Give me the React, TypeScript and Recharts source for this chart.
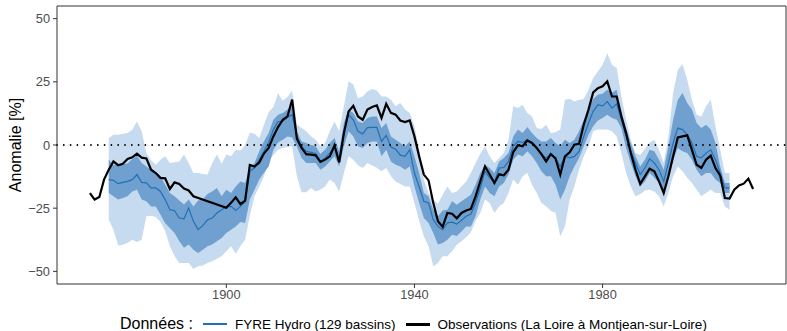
import React from 'react';
import {
  ComposedChart, Area, Line, XAxis, YAxis, ReferenceLine, ReferenceArea,
} from 'recharts';

// Observations (La Loire à Montjean-sur-Loire), first year 1871
const OBS_START = 1871;
const obsValues: (number | null)[] = [
  -19, -21.6, -20.6, -13.7, -9.8, -6.5, -8, -7.4, -5.5,
  -4.9, -3.4, -5, -5.3, -9.8, -11.1, -13, -13.2, -17.4, -14.8,
  -15.4, -17.2, -18, -20.3, null, null, null, null, null, null,
  -24.8, -22.9, -20.7, -23.4, -22, -7.9, -8.5, -6.9, -3.4, -1.2,
  3.4, 7.1, 10, 11.3, 18, 2.5, -1.2, -3.6, -3.8, -4.1,
  -6.7, -5.8, -4.5, -0.2, -6.9, 4.7, 13.3, 15.5, 11.3, 10,
  14, 15, 15.7, 10.7, 16.3, 12.7, 12, 9.7, 9.1, 9.7,
  3.4, -4.5, -11.7, -14, -22.9, -30.2, -32.4, -26.9, -27.2, -29,
  -26.9, -25.9, -25.3, -20.3, -14.4, -8.5, -11.7, -15, -11.6, -12,
  -9.8, -2.8, -0.1, -0.5, 1.8, 0.8, -1.2, -3.6, -6.5, -3.6,
  -5.3, -11.7, -4.5, -2.9, 0.1, 0.5, 8, 14, 20.8, 22.5,
  23.2, 25.2, 19.2, 19.2, 11.3, 4.7, -3.2, -9.8, -15.4, -12.4,
  -9.4, -10.4, -14.4, -19, -12.4, -4.5, 3, 3.4, 3.8, -1.9,
  -7.8, -9.1, -5.8, -4.2, -9.1, -12, -21, -21.2, -17.7, -16,
  -15.3, -13.3, -17.4,
];

// FYRE Hydro (129 bassins), first year 1875
const FYRE_START = 1875;
const fyreMedian: number[] = [
  -13.7, -14, -15.3, -14.8, -14.4,
  -13.7, -11.7, -14.8, -15, -17, -17, -18.4, -21.6, -25.6, -26,
  -28.9, -29.2, -24.9, -30.2, -33.5, -31.9, -29.6, -28.9, -26.9, -25.6,
  -24.5, -24.3, -25.9, -24.3, -22.3, -10.4, -9.1, -5.8, -2.5, 1,
  6, 9.3, 9.3, 11, 12, 3.4, -0.5, -2.5, -2.9, -3.4,
  -6.5, -5.1, -3.2, -0.5, -5.5, 4.7, 12, 10, 5.4, 4.4,
  6.9, 7, 7, 1.4, 3.8, -0.8, -1.7, -4, -4.5, -1.9,
  -11.1, -16.4, -22.3, -22.9, -29.6, -32.2, -33.5, -30.8, -30.5, -31.3,
  -29.8, -28.2, -27.3, -22.9, -17, -10.4, -13, -14.8, -9.1, -8.9,
  -6.5, -0.5, 1.4, 1, 2.1, 0.5, -1.2, -3.8, -5.1, -3.4,
  -5.5, -8.5, -4.5, -5.1, -4.5, -2.5, 3.4, 8.7, 13.3, 15.9,
  15.5, 17.2, 14.6, 16.3, 10, 3.4, -2.5, -7.1, -11.7, -9.1,
  -5.5, -7.1, -9.8, -14.4, -7.1, 0.8, 6.7, 6.1, 4.1, 0.8,
  -4.5, -5.1, -3.2, -1.9, -5.8, -11.1, -17, -17,
];
const darkLow: number[] = [
  -19, -20.3, -21.6, -21, -20.3,
  -18.4, -17.7, -21.6, -22.3, -24.3, -24.3, -27.5, -31, -32.8, -34.8,
  -38.1, -40.7, -39.4, -41.4, -42.7, -41.4, -40.1, -39.4, -38.1, -36.8,
  -34.8, -33.5, -32.2, -30.5, -30.9, -21.6, -17.7, -13.7, -11, -8.5,
  -2, 1, 2.1, 3.4, 3, -0.5, -5.1, -7.1, -7.1, -7.1,
  -9.8, -8.5, -6.5, -4.5, -8.5, -0.5, 5.4, 3.4, -0.5, -1.2,
  0.8, 1.4, 1.4, -4.5, -1.9, -6.5, -7.8, -8.5, -9.8, -8.5,
  -16.4, -22.9, -28.9, -30.9, -34.8, -39.4, -38.8, -37.5, -35.5, -36,
  -34.2, -32.2, -32.2, -28.2, -21.6, -16.4, -19, -20.3, -16.4, -15,
  -11.7, -5.8, -3.8, -4.5, -2.5, -4.5, -7.1, -10.4, -12.4, -12.4,
  -15.7, -21.6, -17.7, -12.4, -8.5, -5.1, -0.5, 4.1, 7.4, 9.7,
  10.7, 12, 10.7, 10, 6.7, -1.2, -7.1, -12.4, -16.4, -14.4,
  -11.1, -13, -15, -19, -13, -5.8, -1.2, -2.5, -3.2, -5.8,
  -9.8, -12.4, -11.1, -11.1, -13.7, -15, -19, -19,
];
const darkHigh: number[] = [
  -5.8, -7.8, -8, -7.6, -7.3,
  -5.5, -4.2, -7.1, -8.5, -9.8, -11.1, -12.5, -15.7, -19, -20.3,
  -22, -23.5, -21.6, -24.3, -22, -21.6, -19.4, -18.4, -17, -20.3,
  -17.7, -19, -16.4, -14.4, -15, -9.1, -7.1, -2.5, 1.5, 4.7,
  10, 12, 12.7, 14, 15.3, 5.4, 1.4, 0.8, 0, -0.5,
  -3.6, -1.9, 0.8, 2.8, -2.5, 8.7, 14, 12.7, 9.3, 8.7,
  10.7, 11.3, 11.3, 6.7, 8.7, 3.4, 2.1, 0.8, -0.5, 1.4,
  -4.5, -11.1, -19, -20.3, -25.6, -28.2, -25.9, -25.6, -22.3, -23.6,
  -22.3, -21, -19.7, -15.7, -11.1, -7.8, -9.1, -11.1, -6.5, -5.1,
  -3.2, 3.4, 6.1, 4.7, 7.1, 4.7, 2.8, 1.4, 1.4, 2.8,
  0.8, -0.5, 2.1, 0.8, 2.1, 5.4, 10, 14, 18.2, 19.9,
  20.3, 21.9, 20.8, 21.9, 13.3, 6.7, 0.8, -4.5, -8.5, -5.8,
  -1.9, -2.5, -5.8, -9.8, -0.5, 10, 17.9, 20.6, 16.6, 14,
  8.7, 6.7, 8, 6.1, 0.8, -8.5, -15, -15,
];
const lightLow: number[] = [
  -29.6, -33.5, -39.8, -39.5, -38.8,
  -37.5, -38.4, -37.5, -28.2, -28, -28.5, -30.5, -34, -40.1, -44,
  -46.7, -46.7, -46.7, -49.1, -48, -47.7, -46.7, -46, -45, -44,
  -42, -40.1, -43, -40, -37.5, -28, -20.3, -16.4, -12.5, -6.5,
  -4, -1.9, -1.2, -0.8, -0.5, -12.4, -18.7, -18.7, -17, -18.4,
  -17.7, -16.4, -13.7, -15, -18.4, -11.1, -4.5, -5.8, -8, -9.1,
  -7.1, -8.1, -9, -10.4, -9.1, -12.4, -14.4, -15.4, -16.4, -16.4,
  -22.9, -30, -36.1, -40.1, -48, -46.7, -44, -44, -42, -39.5,
  -38.1, -36.5, -34.5, -30, -26.9, -21.6, -22.9, -26.9, -24.3, -22.9,
  -19, -13.7, -15.7, -12.4, -11.1, -15.7, -19, -22.9, -24.3, -26,
  -26.9, -36.1, -32.2, -21.6, -16.4, -9.8, -4.5, -0.5, 5.4, 6.1,
  6.1, 6.1, 5.4, 3.4, -3.2, -11.1, -16.4, -20.3, -19.5, -18,
  -17.7, -18.4, -20.3, -24.3, -19, -12.4, -8.5, -10.4, -13, -15,
  -17.7, -20.3, -19, -17.7, -19, -19, -24.3, -25.6,
];
const lightHigh: number[] = [
  2.8, 4.1, 4.1, 4.5, 4.7,
  6, 9.3, 5.4, -3.2, -6, -7.8, -5.8, -4.5, -7.1, -6.8,
  -6.5, -3.8, -7.1, -11.1, -11.1, -11.5, -11.7, -7.1, -3.8, -7.4,
  -3.8, -4.5, -1.9, -2.2, 0, 4.8, 4.5, 2.8, 8, 13,
  15, 20.5, 17.5, 19, 21.6, 8, 6.7, 5.4, 3.5, 2.1,
  -0.5, 0.8, 5.4, 9.3, 5.4, 15.3, 25.2, 23.9, 18.5, 19.2,
  21.2, 22.2, 21.6, 19.2, 19.2, 17.9, 15.3, 16.6, 14, 12.7,
  7.4, -1.9, -13.7, -19, -21.6, -23.2, -19.7, -16.4, -19, -18.4,
  -16.4, -14.4, -11.1, -7.1, -3.5, -0.5, -4.5, -7.1, -5.1, -3.2,
  2.1, 15.3, 14.6, 15.9, 12.7, 11.3, 6.7, 6.3, 8, 4.7,
  5, 6.1, 17.9, 18.3, 17.2, 17.9, 18.2, 21.9, 26.5, 29.1,
  31.8, 36.3, 31.8, 30.5, 19.2, 10, 2.1, -3.2, -4, -1.5,
  1, 2.1, -1.9, -7.1, 3.4, 20.6, 29.8, 32, 25.8, 17.9,
  12, 11.3, 15.3, 17.9, 7.4, -1.9, -11.1, -11.1,
];

const xTicks = [1900, 1940, 1980];
const yTicks = [-50, -25, 0, 25, 50];
const seriesNames = ['FYRE Hydro (129 bassins)', 'Observations (La Loire à Montjean-sur-Loire)'];
const legendTitle = 'Données :';
const yTitle = 'Anomalie [%]';

const LIGHT = '#C6DBEF';
const DARK = '#6FA0CF';
const BLUE = '#2171B5';
const FONT = '"Liberation Sans", Arial, Helvetica, sans-serif';

type Row = {
  year: number;
  obs: number | null;
  median: number | null;
  dark: [number, number] | null;
  light: [number, number] | null;
};

const rows: Row[] = obsValues.map((v, i) => {
  const year = OBS_START + i;
  const j = year - FYRE_START;
  const has = j >= 0 && j < fyreMedian.length;
  return {
    year,
    obs: v,
    median: has ? fyreMedian[j] : null,
    dark: has ? [darkLow[j], darkHigh[j]] : null,
    light: has ? [lightLow[j], lightHigh[j]] : null,
  };
});

const fmt = (v: number) => (v < 0 ? '\u2212' + Math.abs(v) : String(v));

export default function App() {
  return (
    <div style={{ position: 'absolute', left: 0, top: 0, width: 787, height: 331, background: '#fff', fontFamily: FONT }}>
      <ComposedChart
        width={787}
        height={331}
        data={rows}
        margin={{ top: 6, right: 1, bottom: 0, left: 0 }}
      >
        <XAxis
          dataKey="year"
          type="number"
          domain={[1864, 2019]}
          ticks={xTicks}
          axisLine={false}
          tickLine={{ stroke: '#333333' }}
          tickSize={4}
          tickMargin={2}
          height={47}
          tick={{ fill: '#4D4D4D', fontSize: 12.8, fontFamily: FONT }}
          allowDataOverflow
        />
        <YAxis
          type="number"
          domain={[-55, 55]}
          ticks={yTicks}
          tickFormatter={fmt}
          axisLine={false}
          tickLine={{ stroke: '#333333' }}
          tickSize={4}
          tickMargin={3}
          width={57}
          tick={{ fill: '#4D4D4D', fontSize: 12.8, fontFamily: FONT }}
          allowDataOverflow
          label={{
            content: (props: any) => {
              const vb = props.viewBox || { x: 0, y: 6, height: 278 };
              const cx = vb.x + 15;
              const cy = vb.y + vb.height / 2;
              return (
                <text
                  x={cx}
                  y={cy}
                  transform={`rotate(-90 ${cx} ${cy})`}
                  textAnchor="middle"
                  dominantBaseline="central"
                  fontSize={16}
                  fontFamily={FONT}
                  fill="#000"
                >
                  {yTitle}
                </text>
              );
            },
          }}
        />
        <Area
          type="linear"
          dataKey="light"
          stroke="none"
          fill={LIGHT}
          fillOpacity={1}
          isAnimationActive={false}
          activeDot={false}
        />
        <Area
          type="linear"
          dataKey="dark"
          stroke="none"
          fill={DARK}
          fillOpacity={1}
          isAnimationActive={false}
          activeDot={false}
        />
        <Line
          type="linear"
          dataKey="median"
          stroke={BLUE}
          strokeWidth={1.2}
          dot={false}
          activeDot={false}
          isAnimationActive={false}
        />
        <ReferenceLine
          y={0}
          stroke="#000"
          strokeWidth={1.8}
          strokeLinecap="round"
          strokeDasharray="0 6.8"
        />
        <Line
          type="linear"
          dataKey="obs"
          stroke="#000"
          strokeWidth={2.2}
          dot={false}
          activeDot={false}
          connectNulls
          isAnimationActive={false}
        />
        <ReferenceArea
          x1={1864}
          x2={2019}
          y1={-55}
          y2={55}
          fill="none"
          fillOpacity={0}
          stroke="#333333"
          strokeWidth={1}
          ifOverflow="visible"
        />
      </ComposedChart>
      <div
        style={{
          position: 'absolute',
          left: 120,
          top: 315,
          height: 18,
          display: 'flex',
          alignItems: 'center',
          whiteSpace: 'nowrap',
          fontFamily: FONT,
          color: '#000',
        }}
      >
        <span style={{ fontSize: 16, marginRight: 10 }}>{legendTitle}</span>
        <span style={{ display: 'inline-block', width: 24, height: 0, borderTop: `2px solid ${BLUE}`, marginRight: 8 }} />
        <span style={{ fontSize: 13.5, marginRight: 10 }}>{seriesNames[0]}</span>
        <span style={{ display: 'inline-block', width: 24, height: 0, borderTop: '3px solid #000', marginRight: 8 }} />
        <span style={{ fontSize: 13.5 }}>{seriesNames[1]}</span>
      </div>
    </div>
  );
}
